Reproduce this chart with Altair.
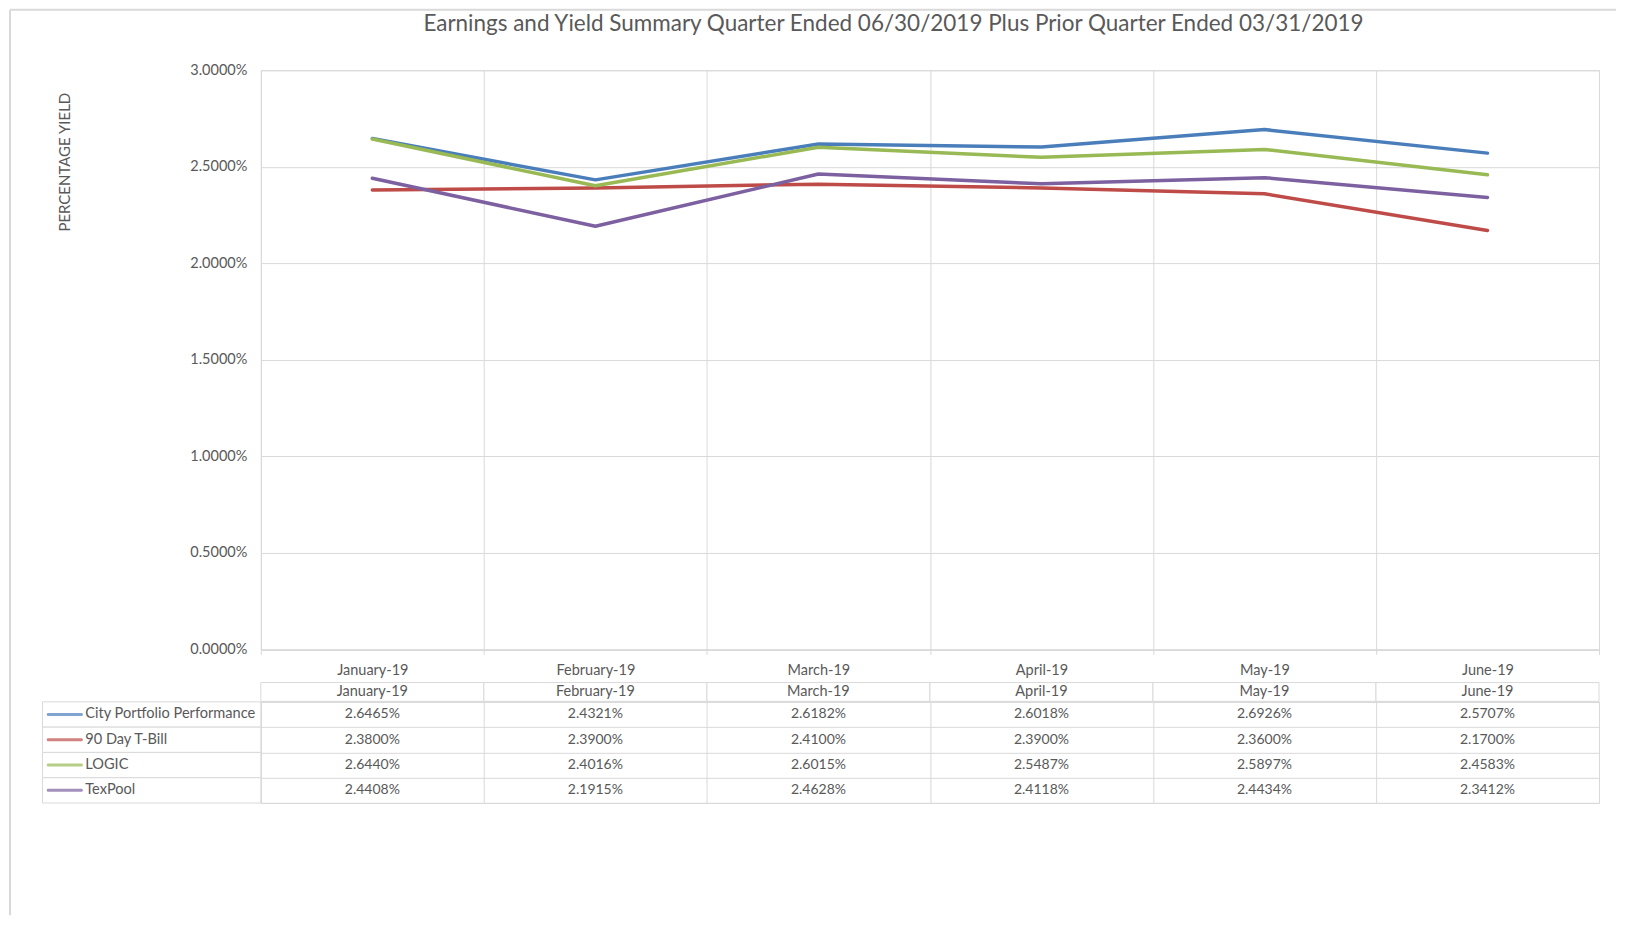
import altair as alt
import pandas as pd

months = ["January-19", "February-19", "March-19", "April-19", "May-19", "June-19"]
series = ["City Portfolio Performance", "90 Day T-Bill", "LOGIC", "TexPool"]
city = [2.6465, 2.4321, 2.6182, 2.6018, 2.6926, 2.5707]
tbill = [2.3800, 2.3900, 2.4100, 2.3900, 2.3600, 2.1700]
logic = [2.6440, 2.4016, 2.6015, 2.5487, 2.5897, 2.4583]
texpool = [2.4408, 2.1915, 2.4628, 2.4118, 2.4434, 2.3412]
colors = ["#4A7EBB", "#BE4B48", "#98B954", "#7D60A0"]
y_ticks = [0.0, 0.5, 1.0, 1.5, 2.0, 2.5, 3.0]
chart_title = "Earnings and Yield Summary Quarter Ended 06/30/2019 Plus Prior Quarter Ended 03/31/2019"
y_title = "PERCENTAGE YIELD"

rows = []
for name, vals in zip(series, [city, tbill, logic, texpool]):
    for m, v in zip(months, vals):
        rows.append({"month": m, "series": name, "value": v / 100})
df = pd.DataFrame(rows)
month_df = pd.DataFrame({"month": months, "row": ["header"] * len(months)})
legend_df = pd.DataFrame({"series": series, "col": ["legend"] * len(series)})
frame_df = pd.DataFrame({"part": ["frame"]})

FONT = "Lato"
GRID = "#d9d9d9"
TXT = "#595959"
W = 1339
H_PLOT = 579.5
GAP = 32.7
H_HEAD = 18.8
H_TABLE = 101.2
LEG_W = 218.5

band = alt.Scale(type="band", paddingInner=0, paddingOuter=0)
color = alt.Color("series:N", scale=alt.Scale(domain=series, range=colors), legend=None)

# ---- line chart
top = alt.Chart(df).mark_line(strokeWidth=3.5, strokeCap="round", strokeJoin="round").encode(
    x=alt.X("month:N", sort=months, scale=band, bandPosition=0.5,
            axis=alt.Axis(title=None, grid=True, gridColor=GRID, tickBand="extent",
                          ticks=True, tickSize=5, tickColor=GRID, domainColor=GRID,
                          labelAngle=0, labelPadding=9, labelFontSize=14.5, labelColor=TXT)),
    y=alt.Y("value:Q", scale=alt.Scale(domain=[0, 0.03]),
            axis=alt.Axis(values=[v / 100 for v in y_ticks], format=".4%", title=y_title,
                          grid=True, gridColor=GRID, domain=False, ticks=False,
                          labelPadding=14, labelFontSize=14.5, labelColor=TXT,
                          titleFontSize=15, titleFontWeight="normal", titleColor=TXT,
                          titleX=-196, titleY=91.5, titleAngle=270, titleAlign="center",
                          titleBaseline="middle")),
    color=color,
).properties(
    width=W, height=H_PLOT,
    title=alt.TitleParams(text=chart_title, font=FONT, fontSize=22.5, fontWeight="normal",
                          color=TXT, anchor="middle", dx=-36.5, offset=27),
)

# ---- header row of data table (bordered cells)
head_x = alt.X("month:N", sort=months, scale=band, axis=None)
head_y = alt.Y("row:N", scale=alt.Scale(type="band", domain=["header"], range=[GAP, GAP + H_HEAD],
                                         paddingInner=0, paddingOuter=0), axis=None)
head_cells = alt.Chart(month_df).mark_rect(fill="white", stroke=GRID, strokeWidth=1).encode(
    x=head_x, y=head_y)
head_text = alt.Chart(month_df).mark_text(font=FONT, fontSize=14.5, color=TXT).encode(
    x=alt.X("month:N", sort=months, scale=band, axis=None, bandPosition=0.5),
    y=alt.Y("row:N", scale=alt.Scale(type="band", domain=["header"], range=[GAP, GAP + H_HEAD],
                                      paddingInner=0, paddingOuter=0), axis=None, bandPosition=0.5),
    text="month:N",
)
header = alt.layer(head_cells, head_text).properties(
    width=W, height=GAP + H_HEAD, view=alt.ViewBackground(stroke="transparent"))

# ---- data table rows
y_tbl = alt.Y("series:N", sort=series, scale=band, bandPosition=0.5,
              axis=alt.Axis(title=None, labels=False, domain=False, ticks=False, grid=True,
                            gridColor=GRID, tickBand="extent"))
values_layer = alt.Chart(df).mark_text(font=FONT, fontSize=14, color=TXT).encode(
    x=alt.X("month:N", sort=months, scale=band, bandPosition=0.5,
            axis=alt.Axis(title=None, labels=False, domain=False, ticks=False, grid=True,
                          gridColor=GRID, tickBand="extent")),
    y=y_tbl,
    text=alt.Text("value:Q", format=".4%"),
)
leg_scale = alt.Scale(type="band", domain=["legend"], range=[-LEG_W, 0], paddingInner=0, paddingOuter=0)
leg_cells = alt.Chart(legend_df).mark_rect(fill="white", stroke=GRID, strokeWidth=1).encode(
    x=alt.X("col:N", scale=leg_scale, axis=None),
    y=y_tbl,
)
leg_swatch = alt.Chart(legend_df).mark_tick(orient="horizontal", thickness=3, size=36.3,
                                            xOffset=-86.9, cornerRadius=1.5).encode(
    x=alt.X("col:N", scale=leg_scale, axis=None),
    y=y_tbl,
    color=color,
)
leg_text = alt.Chart(legend_df).mark_text(font=FONT, fontSize=14.6, color=TXT, align="left", dx=42.8).encode(
    x=alt.X("col:N", scale=leg_scale, axis=None, bandPosition=0),
    y=y_tbl,
    text="series:N",
)
# outer chart-area frame (decoration, light grey border on the left and top)
frame_left = alt.Chart(frame_df).mark_rule(color=GRID, strokeWidth=2).encode(
    x=alt.value(-251), y=alt.value(-692.5), y2=alt.value(213.5))
frame_top = alt.Chart(frame_df).mark_rule(color=GRID, strokeWidth=2).encode(
    x=alt.value(-251), x2=alt.value(1356), y=alt.value(-692.5))

table = alt.layer(values_layer, leg_cells, leg_swatch, leg_text, frame_left, frame_top).resolve_scale(
    x="independent").properties(width=W, height=H_TABLE)

chart = alt.vconcat(top, header, table, spacing=0, bounds="flush").properties(
    padding={"left": 0, "top": 0, "right": 0, "bottom": 0},
).configure_view(stroke=GRID, strokeWidth=1).configure_axis(labelFont=FONT, titleFont=FONT)

chart.save("out.html", embed_options={"renderer": "svg", "actions": False})
